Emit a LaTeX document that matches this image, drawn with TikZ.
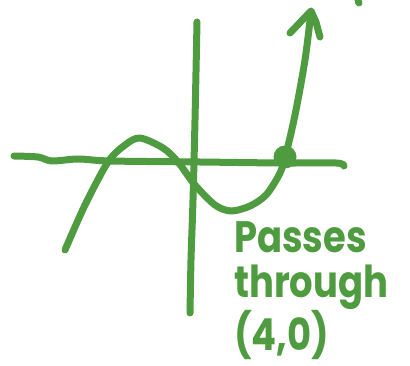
\documentclass[tikz,border=0pt]{standalone}
\usepackage{fontspec}
\setmainfont{Poppins}
\usetikzlibrary{positioning}
\definecolor{pen}{RGB}{79,155,64}
\begin{document}
\begin{tikzpicture}[x=1pt,y=-1pt,
  ink/.style={pen,line width=7pt,line cap=round,line join=round},
  dotmark/.style={circle,fill=pen,minimum size=23pt,inner sep=0pt},
  note/.style={text=pen,font=\fontsize{44}{45}\selectfont\bfseries,align=left,inner sep=0pt,xscale=0.84,transform shape}]
  \useasboundingbox (0,0) rectangle (410,366);

  % Axes.
  \draw[ink] plot[smooth] coordinates {(14,156) (38,157) (52,161) (78,159) (110,161) (200,162) (280,163) (336,163) (344,166)};
  \draw[ink] plot[smooth] coordinates {(197,22) (195,120) (193,200) (191,260) (190,313)};

  % Cubic.
  \draw[ink] plot[smooth] coordinates {(65,250) (85,205) (108,162) (125,145) (140,138) (163,148) (178,162) (195,185) (215,205) (231,211) (250,206) (266,195) (279,175) (285,158) (295,115) (305,60) (311,12)};
  \coordinate (tip) at (311,11);
  \draw[ink] (290,33) -- (tip) -- (316,22) -- (320,37);
  \draw[ink] (358,1) -- (359,3);

  % Root.
  \node[dotmark] (root) at (285,157) {};
  \node[note,anchor=north west] (label) at (234,221) {Passes\\through\\(4,0)};
\end{tikzpicture}
\end{document}
